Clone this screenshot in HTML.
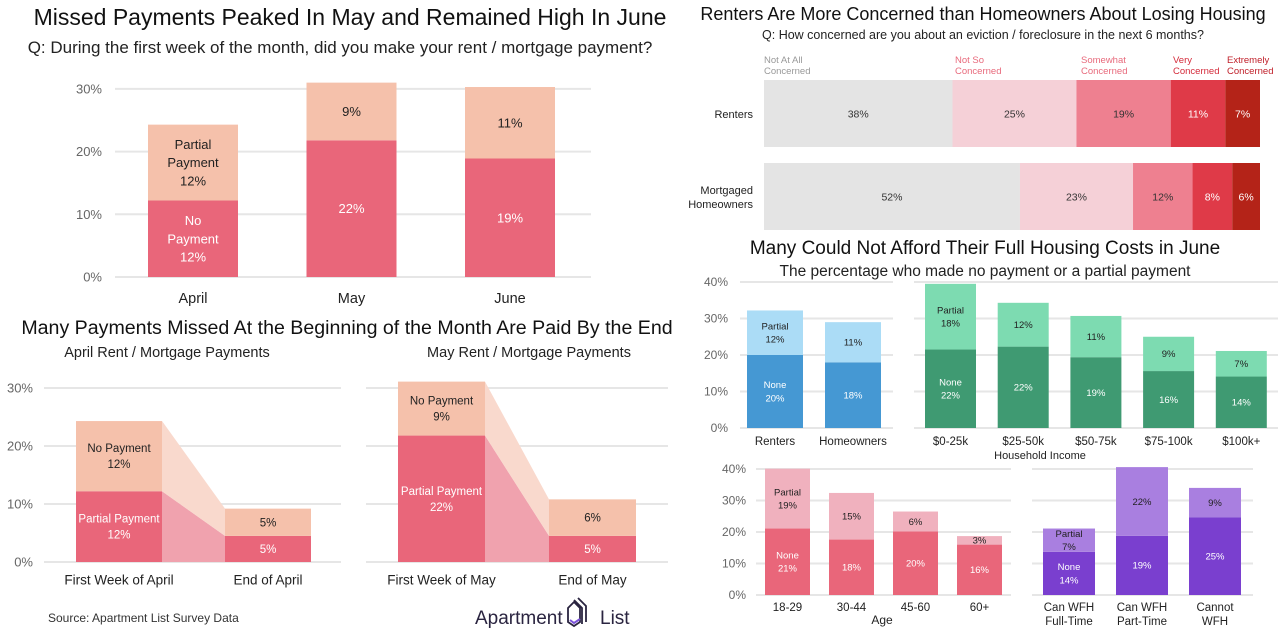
<!DOCTYPE html>
<html><head><meta charset="utf-8">
<style>
html,body{margin:0;padding:0;background:#fff;}
svg{display:block;font-family:"Liberation Sans",sans-serif;}
</style></head>
<body>
<svg id="s" width="1280" height="633" viewBox="0 0 1280 633" xmlns="http://www.w3.org/2000/svg">
<text x="350" y="25" text-anchor="middle" font-size="23" fill="#111">Missed Payments Peaked In May and Remained High In June</text>
<text x="340" y="53" text-anchor="middle" font-size="17" fill="#222">Q: During the first week of the month, did you make your rent / mortgage payment?</text>
<text x="347" y="334" text-anchor="middle" font-size="19.6" fill="#111">Many Payments Missed At the Beginning of the Month Are Paid By the End</text>
<text x="167" y="357" text-anchor="middle" font-size="14.5" fill="#222">April Rent / Mortgage Payments</text>
<text x="529" y="357" text-anchor="middle" font-size="14.5" fill="#222">May Rent / Mortgage Payments</text>
<text x="48" y="622" font-size="12" fill="#333">Source: Apartment List Survey Data</text>
<g>
<text x="475" y="624" font-size="19" fill="#2a2440">Apartment</text>
<path d="M568 608 l6 -6 l6 6 v14 l-6 4 l-6 -4z M574 600 l8 8 v16 M578 598 l8 8 v16" fill="none" stroke="#2a2440" stroke-width="1.8"/>
<path d="M570 620 l4 3 l6 -4" fill="none" stroke="#7b52d8" stroke-width="2"/>
<text x="600" y="624" font-size="19" fill="#2a2440">List</text>
</g>
<text x="983" y="20" text-anchor="middle" font-size="18" fill="#111">Renters Are More Concerned than Homeowners About Losing Housing</text>
<text x="983" y="39" text-anchor="middle" font-size="12.5" fill="#222">Q: How concerned are you about an eviction / foreclosure in the next 6 months?</text>
<text x="985" y="254" text-anchor="middle" font-size="19" fill="#111">Many Could Not Afford Their Full Housing Costs in June</text>
<text x="985" y="276" text-anchor="middle" font-size="15.5" fill="#222">The percentage who made no payment or a partial payment</text>
<text x="1040" y="459" text-anchor="middle" font-size="11" fill="#222">Household Income</text>
<text x="882" y="624" text-anchor="middle" font-size="12" fill="#222">Age</text>
</svg>
<script>
// Chart 1
const c1Cats = ["April","May","June"];
const c1None = [12.2,21.8,18.9];
const c1Partial = [12.1,9.2,11.4];
const c1NoneLbl = ["No\nPayment\n12%","22%","19%"];
const c1PartLbl = ["Partial\nPayment\n12%","9%","11%"];
const c1Ticks = [0,10,20,30];
// Chart 2 April / May
const aprCats = ["First Week of April","End of April"];
const aprPartial = [12.2,4.5];
const aprNone = [12.1,4.7];
const aprPartLbl = ["Partial Payment\n12%","5%"];
const aprNoneLbl = ["No Payment\n12%","5%"];
const mayCats = ["First Week of May","End of May"];
const mayPartial = [21.8,4.5];
const mayNone = [9.3,6.3];
const mayPartLbl = ["Partial Payment\n22%","5%"];
const mayNoneLbl = ["No Payment\n9%","6%"];
const c2Ticks = [0,10,20,30];
// Chart 3
const c3Rows = ["Renters","Mortgaged\nHomeowners"];
const c3Levels = ["Not At All\nConcerned","Not So\nConcerned","Somewhat\nConcerned","Very\nConcerned","Extremely\nConcerned"];
const c3Renters = [38,25,19,11,7];
const c3Owners = [51.6,22.8,12,8,5.6];
const c3RentersLbl = ["38%","25%","19%","11%","7%"];
const c3OwnersLbl = ["52%","23%","12%","8%","6%"];
// Chart 4
const tenCats = ["Renters","Homeowners"];
const tenNone = [20,18];
const tenPartial = [12.2,11];
const tenNoneLbl = ["None\n20%","18%"];
const tenPartLbl = ["Partial\n12%","11%"];
const incCats = ["$0-25k","$25-50k","$50-75k","$75-100k","$100k+"];
const incNone = [21.5,22.3,19.4,15.6,14.1];
const incPartial = [18,12,11.3,9.4,7];
const incNoneLbl = ["None\n22%","22%","19%","16%","14%"];
const incPartLbl = ["Partial\n18%","12%","11%","9%","7%"];
const ageCats = ["18-29","30-44","45-60","60+"];
const ageNone = [21.1,17.6,20.2,16];
const agePartial = [19,14.8,6.3,2.7];
const ageNoneLbl = ["None\n21%","18%","20%","16%"];
const agePartLbl = ["Partial\n19%","15%","6%","3%"];
const wfhCats = ["Can WFH\nFull-Time","Can WFH\nPart-Time","Cannot\nWFH"];
const wfhNone = [13.7,18.8,24.7];
const wfhPartial = [7.4,21.8,9.3];
const wfhNoneLbl = ["None\n14%","19%","25%"];
const wfhPartLbl = ["Partial\n7%","22%","9%"];
const c4Ticks = [0,10,20,30,40];

const svg = document.getElementById('s');
const NS = "http://www.w3.org/2000/svg";
function el(tag, attrs, parent){
  const e = document.createElementNS(NS, tag);
  for (const k in attrs) e.setAttribute(k, attrs[k]);
  (parent||svg).appendChild(e);
  return e;
}
function mtext(str, x, y, fs, fill, anchor, lh, parent){
  const lines = str.split("\n");
  const t = el('text', {x:x, y:y - (lines.length-1)*lh/2 + fs*0.35, 'font-size':fs, fill:fill, 'text-anchor':anchor||'middle'}, parent);
  lines.forEach((l,i)=>{ const ts = el('tspan',{x:x, dy: i===0?0:lh}, t); ts.textContent = l; });
  return t;
}
function grid(name, ticks, y, x1, x2, labX, fs, showLab){
  const g = el('g', {});
  
  
  ticks.forEach(t=>{
    el('line',{x1:x1,x2:x2,y1:y(t),y2:y(t),stroke:'#e6e6e6','stroke-width':2}, g);
    if (showLab) { const tx = mtext(t+'%', labX, y(t), fs, '#666', 'end', fs, g);
      
       }
  });
}
function stacked(o){
  const y = v => o.y0 - v*o.ppu;
  const xb = i => o.x0 + i*o.step;
  const g = el('g', {});
  
  
  if (o.flow){
    const r = xb(0)+o.bw, l = xb(1);
    const b1=o.bot[0], b2=o.bot[1], t1=b1+o.top[0], t2=b2+o.top[1];
    const p1 = el('polygon',{points:`${r},${y(0)} ${r},${y(b1)} ${l},${y(b2)} ${l},${y(0)}`, fill:'#f0a2ae'}, g);
    
    
    const p2 = el('polygon',{points:`${r},${y(b1)} ${r},${y(t1)} ${l},${y(t2)} ${l},${y(b2)}`, fill:'#f9d9cd'}, g);
    
    
  }
  o.cats.forEach((c,i)=>{
    const b = o.bot[i], t = o.top[i];
    const r1 = el('rect',{x:xb(i), y:y(b), width:o.bw, height:b*o.ppu, fill:o.dark}, g);
    
    
    const r2 = el('rect',{x:xb(i), y:y(b+t), width:o.bw, height:t*o.ppu, fill:o.light}, g);
    
    
    mtext(o.botLbl[i], xb(i)+o.bw/2, y(b/2), o.fs, o.botCol, 'middle', o.fs*1.4, g);
    mtext(o.topLbl[i], xb(i)+o.bw/2, y(b+t/2), o.fs, o.topCol, 'middle', o.fs*1.4, g);
    const cl = mtext(c, xb(i)+o.bw/2, o.catY, o.cfs, '#222', 'middle', o.cfs*1.2, g);
    
    
  });
}
// Chart 1
(function(){
  const y0=277, ppu=6.27, y=v=>y0-v*ppu;
  grid('chart1-gridlines', c1Ticks, y, 115, 591, 102, 13, true);
  stacked({name:'chart1-bars',cats:c1Cats,bot:c1None,top:c1Partial,botLbl:c1NoneLbl,topLbl:c1PartLbl,
    x0:148,step:158.5,bw:90,y0:y0,ppu:ppu,dark:'#e9667a',light:'#f5c1ab',botCol:'#fff',topCol:'#222',fs:13,catY:298,cfs:14.5});
})();
// Chart 2
(function(){
  const y0=562, ppu=5.8, y=v=>y0-v*ppu;
  grid('april-gridlines', c2Ticks, y, 44, 341, 33, 13, true);
  grid('may-gridlines', c2Ticks, y, 366, 668, 0, 13, false);
  stacked({name:'april-bars',flow:true,cats:aprCats,bot:aprPartial,top:aprNone,botLbl:aprPartLbl,topLbl:aprNoneLbl,
    x0:76,step:149,bw:86,y0:y0,ppu:ppu,dark:'#e9667a',light:'#f5c1ab',botCol:'#fff',topCol:'#222',fs:11.5,catY:580,cfs:13.5});
  stacked({name:'may-bars',flow:true,cats:mayCats,bot:mayPartial,top:mayNone,botLbl:mayPartLbl,topLbl:mayNoneLbl,
    x0:398,step:151,bw:87,y0:y0,ppu:ppu,dark:'#e9667a',light:'#f5c1ab',botCol:'#fff',topCol:'#222',fs:11.5,catY:580,cfs:13.5});
})();
// Chart 3
(function(){
  const xs=764, W=496;
  const cols=['#e4e4e4','#f5d0d7','#ee8090','#df3a48','#b42318'];
  const labCols=['#999','#e86a7c','#e86a7c','#d42a3a','#c0202a'];
  const txtCols=['#333','#333','#333','#fff','#fff'];
  const rows=[c3Renters,c3Owners], lbls=[c3RentersLbl,c3OwnersLbl], ys=[80,163];
  const catX=[764,955,1081,1173,1227];
  c3Levels.forEach((l,i)=>{ const t = mtext(l, catX[i], 65, 9.5, labCols[i], 'start', 11, svg);
    
     });
  rows.forEach((row,r)=>{
    const tot = row.reduce((a,b)=>a+b,0);
    const g = el('g',{});
    
    
    let acc=0;
    row.forEach((v,i)=>{
      const x = xs + acc/tot*W, w = v/tot*W;
      const rc = el('rect',{x:x,y:ys[r],width:w,height:67,fill:cols[i]},g);
      
      
      mtext(lbls[r][i], x+w/2, ys[r]+34, 10.5, txtCols[i], 'middle', 12, g);
      acc+=v;
    });
    mtext(c3Rows[r], 753, ys[r]+34, 11, '#222', 'end', 14, g);
  });
})();
// Chart 4
(function(){
  const y0=428, ppu=3.65, y=v=>y0-v*ppu;
  grid('tenure-gridlines', c4Ticks, y, 740, 893, 728, 12, true);
  grid('income-gridlines', c4Ticks, y, 914, 1278, 0, 12, false);
  stacked({name:'tenure-bars',cats:tenCats,bot:tenNone,top:tenPartial,botLbl:tenNoneLbl,topLbl:tenPartLbl,
    x0:747,step:78,bw:56,y0:y0,ppu:ppu,dark:'#4598d3',light:'#abdcf6',botCol:'#fff',topCol:'#222',fs:9.5,catY:441,cfs:11.5});
  stacked({name:'income-bars',cats:incCats,bot:incNone,top:incPartial,botLbl:incNoneLbl,topLbl:incPartLbl,
    x0:925,step:72.7,bw:51,y0:y0,ppu:ppu,dark:'#3f9a72',light:'#7ddbb1',botCol:'#fff',topCol:'#222',fs:9.5,catY:441,cfs:11.5});
})();
// Chart 5
(function(){
  const y0=595, ppu=3.15, y=v=>y0-v*ppu;
  grid('age-gridlines', c4Ticks, y, 756, 1011, 746, 12, true);
  grid('wfh-gridlines', c4Ticks, y, 1032, 1253, 0, 12, false);
  stacked({name:'age-bars',cats:ageCats,bot:ageNone,top:agePartial,botLbl:ageNoneLbl,topLbl:agePartLbl,
    x0:765,step:64,bw:45,y0:y0,ppu:ppu,dark:'#e9667a',light:'#f0b1be',botCol:'#fff',topCol:'#222',fs:9.5,catY:607,cfs:11.5});
  stacked({name:'wfh-bars',cats:wfhCats,bot:wfhNone,top:wfhPartial,botLbl:wfhNoneLbl,topLbl:wfhPartLbl,
    x0:1043,step:73,bw:52,y0:y0,ppu:ppu,dark:'#7a3fcf',light:'#a97fe0',botCol:'#fff',topCol:'#222',fs:9.5,catY:614,cfs:11.5});
})();
</script>
</body></html>
